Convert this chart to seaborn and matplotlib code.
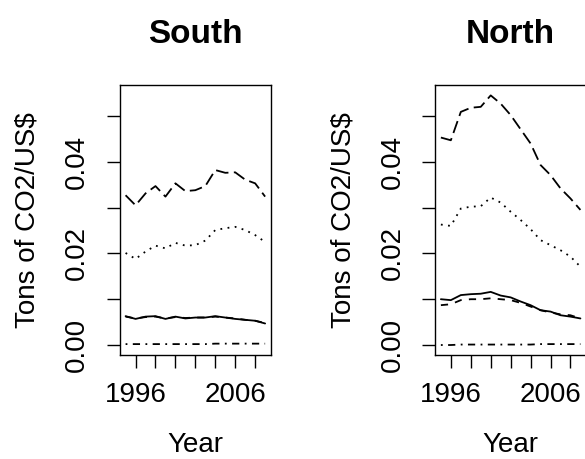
import numpy as np
import pandas as pd
import matplotlib
matplotlib.use("Agg")
import matplotlib.pyplot as plt
import seaborn as sns

years = list(range(1995, 2010))

south_longdash = [0.0327, 0.0305, 0.0331, 0.0347, 0.0324, 0.0353, 0.0336, 0.0338,
                  0.0347, 0.0382, 0.0376, 0.0377, 0.0361, 0.0353, 0.0324]
south_dotted = [0.0201, 0.0188, 0.0204, 0.0217, 0.0211, 0.0223, 0.0217, 0.0218,
                0.0228, 0.0251, 0.0255, 0.0258, 0.0251, 0.0240, 0.0225]
south_solid = [0.0063, 0.0057, 0.0062, 0.0063, 0.0057, 0.0062, 0.0058, 0.0060,
               0.0060, 0.0063, 0.0060, 0.0057, 0.0055, 0.0053, 0.0047]
south_dashed = [0.0062, 0.0058, 0.0061, 0.0062, 0.0058, 0.0061, 0.0059, 0.0060,
                0.0060, 0.0062, 0.0060, 0.0058, 0.0055, 0.0053, 0.0048]
south_dotdash = [0.0002, 0.0002, 0.0002, 0.0002, 0.0002, 0.0002, 0.0002, 0.0002,
                 0.0002, 0.0003, 0.0003, 0.0003, 0.0003, 0.0003, 0.0003]

north_longdash = [0.0453, 0.0447, 0.0509, 0.0518, 0.0520, 0.0545, 0.0527, 0.0502,
                  0.0471, 0.0440, 0.0393, 0.0371, 0.0342, 0.0320, 0.0295]
north_dotted = [0.0263, 0.0260, 0.0298, 0.0302, 0.0303, 0.0322, 0.0311, 0.0291,
                0.0273, 0.0253, 0.0229, 0.0218, 0.0207, 0.0193, 0.0171]
north_solid = [0.0100, 0.0098, 0.0109, 0.0111, 0.0112, 0.0116, 0.0108, 0.0104,
               0.0095, 0.0087, 0.0076, 0.0073, 0.0065, 0.0062, 0.0058]
north_dashed = [0.0087, 0.0089, 0.0098, 0.0100, 0.0100, 0.0102, 0.0100, 0.0098,
                0.0092, 0.0084, 0.0076, 0.0071, 0.0067, 0.0065, 0.0058]
north_dotdash = [0.0000, 0.0000, 0.0001, 0.0001, 0.0001, 0.0001, 0.0001, 0.0001,
                 0.0001, 0.0001, 0.0002, 0.0002, 0.0002, 0.0002, 0.0002]

panel_titles = ["South", "North"]
y_ticks = [0.00, 0.01, 0.02, 0.03, 0.04, 0.05]
y_ticklabels = ["0.00", "", "0.02", "", "0.04", ""]
x_ticks = [1996, 1998, 2000, 2002, 2004, 2006, 2008]
x_ticklabels = ["1996", "", "", "", "", "2006", ""]
x_label = "Year"
y_label = "Tons of CO2/US$"

sns.set_style("white")
plt.rcParams["font.family"] = ["Liberation Sans", "DejaVu Sans"]
for k in ["text.color", "axes.labelcolor", "xtick.color", "ytick.color", "axes.edgecolor"]:
    plt.rcParams[k] = "black"

W, H = 585, 459
fig = plt.figure(figsize=(W / 100, H / 100), dpi=100)

styles = {
    "solid": "-",
    "dashed": (0, (4, 4)),
    "dotted": (0, (1, 3)),
    "dotdash": (0, (1, 3, 4, 3)),
    "longdash": (0, (7, 3)),
}

panels = [
    (120.0, {"solid": south_solid, "dashed": south_dashed, "dotted": south_dotted,
             "dotdash": south_dotdash, "longdash": south_longdash}),
    (435.3, {"solid": north_solid, "dashed": north_dashed, "dotted": north_dotted,
             "dotdash": north_dotdash, "longdash": north_longdash}),
]

top_px, bot_px, w_px = 85.0, 355.0, 150.7
lw = 1.3
for (left_px, series), title in zip(panels, panel_titles):
    ax = fig.add_axes([left_px / W, 1 - bot_px / H, w_px / W, (bot_px - top_px) / H])
    for name, vals in series.items():
        df = pd.DataFrame({"Year": years, "value": vals})
        sns.lineplot(data=df, x="Year", y="value", ax=ax, color="black",
                     linewidth=lw, linestyle=styles[name])
    ax.set_xlim(1994.44, 2009.56)
    ax.set_ylim(-0.00218, 0.05677)
    ax.set_xticks(x_ticks)
    ax.set_xticklabels(x_ticklabels)
    ax.set_yticks(y_ticks)
    ax.set_yticklabels(y_ticklabels, rotation=90, va="center")
    ax.tick_params(axis="both", direction="out", length=9.4, width=1.0,
                   color="black", labelcolor="black", labelsize=20, left=True, bottom=True)
    ax.tick_params(axis="y", pad=12)
    ax.tick_params(axis="x", pad=10)
    for sp in ax.spines.values():
        sp.set_visible(True)
        sp.set_color("black")
        sp.set_linewidth(1.0)
    ax.set_xlabel("")
    ax.set_ylabel("")
    cx = (left_px + w_px / 2) / W
    fig.text(cx, 1 - 43.3 / H, title, ha="center", va="baseline",
             fontsize=24, fontweight="bold")
    fig.text(cx, 0.5 / H, x_label, ha="center", va="bottom", fontsize=20)
    fig.text((left_px - 85) / W, 1 - 220 / H, y_label, rotation=90,
             rotation_mode="anchor", ha="center", va="baseline", fontsize=20)

fig.savefig("out.png", dpi=100)
